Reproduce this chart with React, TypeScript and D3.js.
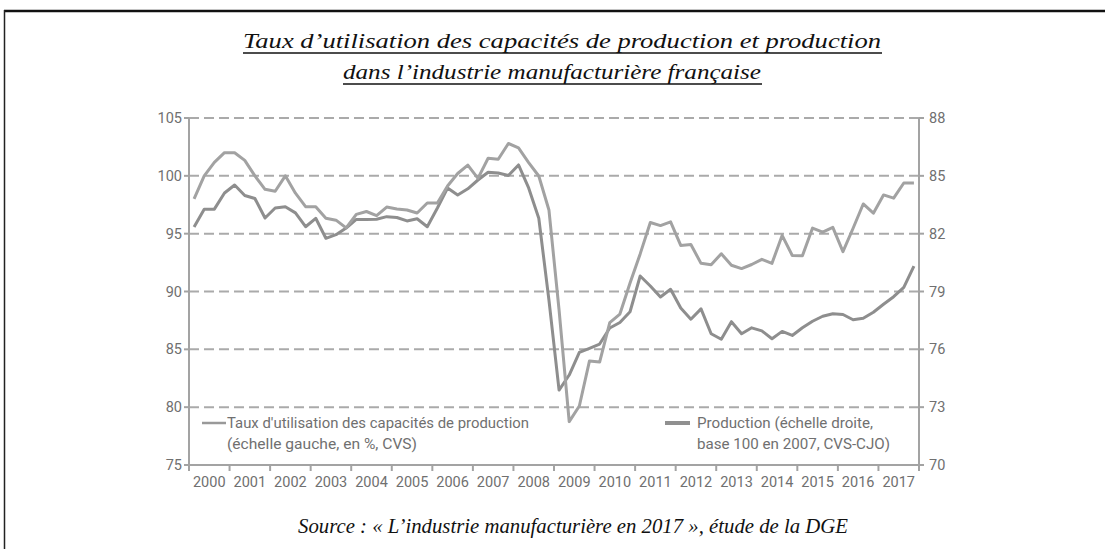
import * as d3 from "d3";

// quarterly series, 2000Q1 .. 2017Q4
const years = d3.range(2000, 2018);

// taux d'utilisation (right axis, 70-88)
const tucValues = [
  83.8, 85.0, 85.7, 86.2, 86.2, 85.8, 85.0, 84.3,
  84.2, 85.0, 84.1, 83.4, 83.4, 82.8, 82.7, 82.3,
  83.0, 83.15, 82.94, 83.38, 83.28, 83.23, 83.07, 83.59,
  83.59, 84.47, 85.12, 85.56, 84.87, 85.91, 85.86, 86.68,
  86.45, 85.69, 84.99, 83.23, 78.04, 72.25, 73.06, 75.4,
  75.34, 77.39, 77.83, 79.44, 80.95, 82.58, 82.42, 82.61,
  81.39, 81.44, 80.46, 80.39, 80.96, 80.36, 80.19, 80.4,
  80.67, 80.46, 81.91, 80.87, 80.85, 82.29, 82.08, 82.33,
  81.07, 82.28, 83.54, 83.06, 84.01, 83.84, 84.63, 84.63,
];

// production (left axis, 75-105)
const prodValues = [
  95.58, 97.12, 97.12, 98.52, 99.21, 98.3, 98.04, 96.35,
  97.22, 97.33, 96.8, 95.6, 96.33, 94.6, 94.91, 95.49,
  96.23, 96.23, 96.24, 96.47, 96.4, 96.1, 96.29, 95.6,
  97.22, 98.95, 98.34, 98.88, 99.64, 100.31, 100.25, 100.03,
  100.94, 98.95, 96.33, 89.27, 81.48, 82.78, 84.73, 85.09,
  85.46, 86.84, 87.32, 88.25, 91.34, 90.48, 89.52, 90.19,
  88.57, 87.6, 88.5, 86.35, 85.87, 87.39, 86.35, 86.86,
  86.6, 85.92, 86.55, 86.2, 86.86, 87.43, 87.86, 88.08,
  88.01, 87.56, 87.68, 88.21, 88.9, 89.55, 90.35, 92.2,
];

const leftTicks = [75, 80, 85, 90, 95, 100, 105];
const rightTicks = [70, 73, 76, 79, 82, 85, 88];

const W = 1105;
const H = 549;
const AX = "#a3a3a3";
const TXT = "#707070";
const SANS = "Roboto, 'DejaVu Sans', sans-serif";
const SCRIPT = "'Liberation Serif', serif";

export default function App() {
  const x = d3.scaleLinear().domain([2000, 2018]).range([189, 919]);
  const yL = d3.scaleLinear().domain([75, 105]).range([465, 118]);
  const yR = d3.scaleLinear().domain([70, 88]).range([465, 118]);

  const t = (i: number) => 2000 + (i + 0.5) / 4;
  const tucLine = d3.line<number>().x((_, i) => x(t(i))).y((d) => yR(d));
  const prodLine = d3.line<number>().x((_, i) => x(t(i))).y((d) => yL(d));

  return (
    <svg
      width={W}
      height={H}
      style={{ position: "absolute", left: 0, top: 0, background: "#fff" }}
    >
      <rect width={W} height={H} fill="#fff" />

      {/* frame */}
      <line x1={4} x2={W} y1={11} y2={11} stroke="#111" strokeWidth={2.5} />
      <line x1={4.5} x2={4.5} y1={10} y2={H} stroke="#222" strokeWidth={1.5} />

      {/* title */}
      <g fontFamily={SCRIPT} fontStyle="italic" fontSize={21} fill="#111" textAnchor="middle">
        <text x={562} y={48} textLength={638} lengthAdjust="spacingAndGlyphs">
          Taux d’utilisation  des capacités de production  et production
        </text>
        <text x={552} y={79} textLength={418} lengthAdjust="spacingAndGlyphs">
          dans l’industrie  manufacturière  française
        </text>
      </g>
      <line x1={243} x2={882} y1={53} y2={53} stroke="#111" strokeWidth={1.5} />
      <line x1={343} x2={762} y1={84} y2={84} stroke="#111" strokeWidth={1.5} />

      {/* grid */}
      {leftTicks.slice(1).map((v) => (
        <line
          key={"g" + v}
          x1={189}
          x2={919}
          y1={yL(v)}
          y2={yL(v)}
          stroke="#aaa"
          strokeWidth={2}
          strokeDasharray="10 5"
        />
      ))}

      {/* axes */}
      <g stroke={AX} strokeWidth={2}>
        <line x1={189} x2={189} y1={118} y2={471} />
        <line x1={919} x2={919} y1={118} y2={471} />
        <line x1={189} x2={919} y1={465} y2={465} />
        {leftTicks.map((v) => (
          <line key={"lt" + v} x1={184} x2={189} y1={yL(v)} y2={yL(v)} />
        ))}
        {rightTicks.map((v) => (
          <line key={"rt" + v} x1={919} x2={924} y1={yR(v)} y2={yR(v)} />
        ))}
        {d3.range(2000, 2019).map((yr) => (
          <line key={"xt" + yr} x1={x(yr)} x2={x(yr)} y1={465} y2={471} />
        ))}
      </g>

      <g fontFamily={SANS} fontSize={14.5} fill={TXT}>
        {leftTicks.map((v) => (
          <text key={"ll" + v} x={182} y={yL(v)} dy="0.35em" textAnchor="end">
            {v}
          </text>
        ))}
        {rightTicks.map((v) => (
          <text key={"rl" + v} x={929} y={yR(v)} dy="0.35em">
            {v}
          </text>
        ))}
        {years.map((yr) => (
          <text key={"yl" + yr} x={x(yr + 0.5)} y={487} textAnchor="middle">
            {yr}
          </text>
        ))}
      </g>

      {/* series */}
      <path d={prodLine(prodValues) ?? ""} fill="none" stroke="#8e8e8e" strokeWidth={3} strokeLinejoin="round" />
      <path d={tucLine(tucValues) ?? ""} fill="none" stroke="#a2a2a2" strokeWidth={3} strokeLinejoin="round" />

      {/* legend */}
      <line x1={202} x2={226} y1={423} y2={423} stroke="#999" strokeWidth={2.5} />
      <line x1={665} x2={690} y1={423} y2={423} stroke="#909090" strokeWidth={4} />
      <g fontFamily={SANS} fontSize={14.5} fill={TXT} lengthAdjust="spacingAndGlyphs">
        <text x={227} y={428} textLength={302} lengthAdjust="spacingAndGlyphs">
          Taux d'utilisation des capacités de production
        </text>
        <text x={227} y={449} textLength={190} lengthAdjust="spacingAndGlyphs">
          (échelle gauche, en %, CVS)
        </text>
        <text x={697} y={428} textLength={176} lengthAdjust="spacingAndGlyphs">
          Production (échelle droite,
        </text>
        <text x={697} y={449} textLength={193} lengthAdjust="spacingAndGlyphs">
          base 100 en 2007, CVS-CJO)
        </text>
      </g>

      {/* source */}
      <text
        x={573}
        y={533}
        fontFamily={SCRIPT}
        fontStyle="italic"
        fontSize={20}
        fill="#111"
        textAnchor="middle"
        textLength={550}
        lengthAdjust="spacingAndGlyphs"
      >
        Source : « L’industrie  manufacturière  en 2017 », étude de la DGE
      </text>
    </svg>
  );
}
